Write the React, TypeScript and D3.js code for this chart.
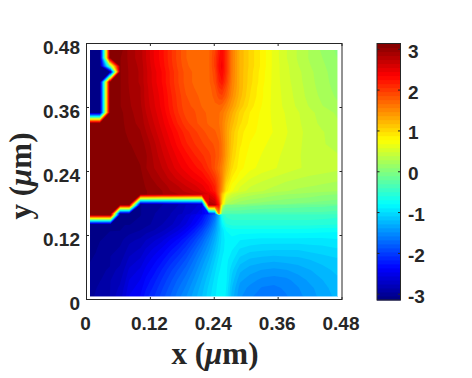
import React from "react";
import * as d3 from "d3";

// sample positions of the phase map (micrometres)
const xSamples = [.0066,.0178,.0254,.0441,.0451,.0629,.0723,.0803,.1013,.1118,.1268,.1418,.1569,.1719,.1869,.2020,.2170,.2301,.2414,.2489,.2546,.2621,.2733,.2884,.3072,.3297,.3522,.3748,.3973,.4199,.4424,.4706];
const ySamples = [.4678,.4528,.4378,.4266,.4078,.3966,.3816,.3628,.3502,.3305,.3141,.2916,.2691,.2466,.2278,.2128,.2034,.1973,.1786,.1777,.1608,.1589,.1411,.1303,.1116,.0928,.0741,.0553,.0366,.0216,.0066];

// phase (rad), one row per y sample, top to bottom
const phaseRows = [
[-3.05,-3.05,-3.05,3.05,3.05,3.1,3.0,2.9,2.8,2.65,2.45,2.3,2.1,1.92,1.77,1.72,1.7,1.75,1.95,2.2,2.35,2.1,1.6,1.25,1.05,.85,.65,.5,.38,.28,.18,.08],
[-3.05,-3.05,-3.05,3.05,3.05,3.05,3.0,2.9,2.8,2.65,2.45,2.3,2.1,1.92,1.77,1.72,1.7,1.75,2.0,2.25,2.35,2.1,1.6,1.25,1.05,.85,.65,.5,.38,.28,.2,.1],
[-3.05,-3.05,-3.05,0,.1,3.05,3.0,2.92,2.82,2.67,2.47,2.32,2.12,1.94,1.79,1.72,1.7,1.75,2.0,2.3,2.4,2.1,1.6,1.25,1.05,.85,.65,.52,.4,.3,.22,.12],
[-3.05,-3.05,-3.05,-3.05,-3.05,3.05,3.0,2.93,2.83,2.68,2.5,2.35,2.15,1.97,1.82,1.75,1.7,1.75,1.95,2.25,2.35,2.1,1.6,1.25,1.03,.83,.65,.52,.42,.32,.23,.14],
[-3.05,-3.05,-3.05,3.1,3.1,3.05,3.0,2.93,2.83,2.68,2.5,2.35,2.15,1.97,1.82,1.75,1.7,1.75,1.9,2.15,2.25,2.0,1.58,1.25,1.02,.82,.65,.53,.43,.33,.24,.15],
[-3.05,-3.05,-3.05,3.1,3.1,3.05,3.0,2.94,2.85,2.7,2.52,2.38,2.17,1.99,1.84,1.77,1.7,1.72,1.85,2.05,2.1,1.9,1.55,1.25,1.0,.8,.65,.54,.44,.34,.25,.16],
[-3.05,-3.05,-3.05,3.1,3.1,3.05,3.0,2.95,2.85,2.7,2.55,2.4,2.2,2.02,1.87,1.82,1.72,1.72,1.8,1.92,1.95,1.8,1.5,1.22,.98,.8,.65,.55,.45,.35,.27,.18],
[-3.05,-3.05,-3.05,3.1,3.1,3.05,3.0,2.96,2.87,2.72,2.57,2.42,2.22,2.04,1.89,1.85,1.76,1.72,1.75,1.75,1.72,1.6,1.4,1.15,.93,.78,.65,.56,.47,.38,.3,.22],
[-3.05,-3.05,-3.05,3.1,3.1,3.08,3.02,2.97,2.9,2.75,2.6,2.45,2.25,2.07,1.92,1.88,1.8,1.74,1.72,1.68,1.62,1.5,1.3,1.05,.88,.76,.66,.58,.5,.42,.35,.28],
[3.1,3.1,3.1,3.1,3.1,3.1,3.03,2.98,2.92,2.8,2.65,2.5,2.33,2.15,2.0,1.9,1.82,1.75,1.72,1.67,1.58,1.42,1.22,1.0,.85,.75,.67,.59,.51,.43,.37,.31],
[3.1,3.1,3.1,3.1,3.1,3.1,3.05,3.0,2.95,2.85,2.7,2.55,2.4,2.25,2.1,2.0,1.9,1.82,1.78,1.72,1.6,1.4,1.15,.92,.82,.75,.68,.6,.52,.45,.4,.35],
[3.1,3.1,3.1,3.1,3.1,3.1,3.1,3.05,3.0,2.92,2.78,2.62,2.47,2.32,2.18,2.07,1.98,1.9,1.85,1.78,1.65,1.42,1.12,.9,.78,.71,.65,.58,.51,.45,.4,.37],
[3.1,3.1,3.1,3.1,3.1,3.1,3.1,3.08,3.02,2.96,2.82,2.68,2.55,2.42,2.3,2.18,2.08,2.0,1.88,1.78,1.65,1.4,1.08,.85,.75,.68,.62,.56,.5,.46,.42,.4],
[3.1,3.1,3.1,3.1,3.1,3.1,3.1,3.1,3.05,2.95,2.85,2.75,2.62,2.5,2.4,2.3,2.2,2.05,1.85,1.7,1.55,1.3,1.0,.82,.72,.65,.6,.55,.5,.47,.45,.42],
[3.1,3.1,3.1,3.1,3.1,3.1,3.1,3.1,3.08,3.0,2.92,2.83,2.72,2.62,2.53,2.43,2.35,2.2,2.02,1.8,1.55,1.18,.88,.72,.6,.53,.48,.43,.4,.37,.35,.33],
[3.1,3.1,3.1,3.1,3.1,3.1,3.1,3.1,3.1,3.03,2.98,2.9,2.82,2.75,2.65,2.58,2.48,2.35,2.15,1.82,1.5,1.02,.75,.6,.5,.44,.4,.35,.32,.3,.28,.25],
[3.1,3.1,3.1,3.1,3.1,3.1,3.1,3.1,3.1,3.05,3.0,2.95,2.85,2.8,2.72,2.65,2.55,2.4,2.2,1.8,1.45,.95,.7,.55,.45,.4,.33,.3,.27,.25,.23,.2],
[3.1,3.1,3.1,3.1,3.1,3.1,3.1,3.1,3.1,3.05,3.0,2.95,2.9,2.85,2.8,2.75,2.7,2.55,2.35,1.8,1.2,.7,.5,.4,.33,.28,.23,.2,.18,.15,.12,.1],
[3.1,3.1,3.1,3.1,3.1,3.1,3.1,3.1,-3.05,-3.0,-3.0,-2.95,-2.9,-2.85,-2.8,-2.75,-2.7,2.85,2.75,2.2,1.0,.3,.2,.12,.08,.05,.03,0,-.02,-.03,-.05,-.08],
[3.1,3.1,3.1,3.1,3.1,3.1,3.1,3.1,-3.05,-3.0,-3.0,-2.95,-2.9,-2.85,-2.75,-2.7,-2.6,2.85,2.85,2.3,.6,0,0,-.02,-.05,-.08,-.1,-.12,-.13,-.15,-.15,-.18],
[3.1,3.1,3.1,3.1,3.1,-3.05,-3.05,-3.05,-3.05,-3.0,-2.95,-2.9,-2.85,-2.8,-2.7,-2.6,-2.45,-2.25,-2.0,1.5,-.2,-.3,-.3,-.3,-.32,-.33,-.33,-.33,-.33,-.33,-.33,-.35],
[3.1,3.1,3.1,3.1,3.1,-3.05,-3.05,-3.05,-3.05,-3.0,-2.95,-2.9,-2.85,-2.75,-2.65,-2.5,-2.35,-2.05,-1.7,-1.2,-.6,-.45,-.42,-.42,-.42,-.42,-.42,-.42,-.42,-.42,-.42,-.45],
[-3.05,-3.05,-3.05,-3.05,-3.05,-3.05,-3.05,-3.05,-3.0,-2.98,-2.92,-2.85,-2.78,-2.68,-2.55,-2.38,-2.15,-1.85,-1.5,-1.15,-.85,-.6,-.55,-.55,-.55,-.55,-.55,-.55,-.55,-.55,-.57,-.58],
[-3.05,-3.05,-3.05,-3.05,-3.05,-3.05,-3.0,-3.0,-2.95,-2.9,-2.85,-2.78,-2.68,-2.57,-2.42,-2.22,-1.98,-1.7,-1.4,-1.15,-.95,-.78,-.72,-.72,-.72,-.72,-.72,-.72,-.72,-.73,-.74,-.75],
[-3.05,-3.05,-3.05,-3.0,-3.0,-2.97,-2.93,-2.88,-2.82,-2.75,-2.67,-2.58,-2.45,-2.33,-2.17,-1.98,-1.75,-1.5,-1.27,-1.08,-.95,-.85,-.82,-.88,-.9,-.92,-.92,-.92,-.92,-.92,-.92,-.9],
[-3.05,-3.05,-3.0,-3.0,-2.97,-2.93,-2.87,-2.8,-2.73,-2.63,-2.52,-2.42,-2.28,-2.15,-2.0,-1.8,-1.58,-1.38,-1.17,-1.02,-.92,-.85,-.88,-1.0,-1.05,-1.07,-1.08,-1.08,-1.08,-1.05,-1.03,-1.0],
[-3.05,-3.02,-3.0,-2.97,-2.93,-2.88,-2.8,-2.72,-2.63,-2.52,-2.4,-2.28,-2.13,-2.0,-1.85,-1.66,-1.45,-1.27,-1.08,-.95,-.88,-.85,-.95,-1.12,-1.2,-1.23,-1.25,-1.23,-1.22,-1.18,-1.14,-1.1],
[-3.02,-3.0,-2.97,-2.93,-2.88,-2.82,-2.73,-2.63,-2.53,-2.42,-2.3,-2.15,-2.0,-1.86,-1.72,-1.55,-1.35,-1.18,-1.0,-.9,-.85,-.85,-1.05,-1.25,-1.33,-1.38,-1.4,-1.38,-1.33,-1.28,-1.22,-1.15],
[-3.0,-2.98,-2.95,-2.9,-2.85,-2.77,-2.67,-2.55,-2.45,-2.33,-2.2,-2.05,-1.9,-1.75,-1.62,-1.45,-1.27,-1.1,-.95,-.85,-.82,-.85,-1.12,-1.35,-1.43,-1.5,-1.52,-1.5,-1.43,-1.35,-1.28,-1.2],
[-3.0,-2.95,-2.92,-2.87,-2.82,-2.73,-2.62,-2.5,-2.4,-2.27,-2.13,-1.98,-1.83,-1.68,-1.55,-1.38,-1.22,-1.05,-.92,-.83,-.8,-.88,-1.18,-1.42,-1.5,-1.58,-1.6,-1.55,-1.48,-1.4,-1.32,-1.22],
[-2.98,-2.93,-2.9,-2.85,-2.8,-2.7,-2.58,-2.45,-2.35,-2.2,-2.07,-1.92,-1.77,-1.62,-1.48,-1.33,-1.18,-1.02,-.9,-.82,-.78,-.9,-1.22,-1.45,-1.55,-1.62,-1.62,-1.58,-1.5,-1.43,-1.33,-1.25],
];

const axisTicks = [0, 0.12, 0.24, 0.36, 0.48];
const axisTickLabels = ["0", "0.12", "0.24", "0.36", "0.48"];
const barTicks = [-3, -2, -1, 0, 1, 2, 3];
const levelCount = 64;

const INK = "#262626";
const SANS = "'Liberation Sans', Arial, sans-serif";
const SERIF = "'Liberation Serif', 'Times New Roman', serif";

const jet = (t: number) => {
  const ch = (c: number) => Math.round(255 * Math.max(0, Math.min(1, 1.5 - Math.abs(4 * t - c))));
  return `rgb(${ch(3)},${ch(2)},${ch(1)})`;
};

export default function App() {
  const x = d3.scaleLinear().domain([0, 0.48]).range([86.5, 342]);
  const y = d3.scaleLinear().domain([0, 0.48]).range([299.5, 43.5]);
  const c = d3.scaleLinear().domain([-Math.PI, Math.PI]).range([300, 43.5]);

  const nx = xSamples.length;
  const ny = ySamples.length;
  const gx = d3.scaleLinear().domain(xSamples.map((_, i) => i + 0.5)).range(xSamples.map((v) => x(v)));
  const gy = d3.scaleLinear().domain(ySamples.map((_, i) => i + 0.5)).range(ySamples.map((v) => y(v)));
  const path = d3.geoPath(
    d3.geoTransform({
      point(px: number, py: number) {
        (this as any).stream.point(gx(px), gy(py));
      },
    })
  );

  const levels = d3.range(levelCount).map((k) => -Math.PI + (k * 2 * Math.PI) / levelCount);
  const bands = d3.contours().size([nx, ny]).thresholds(levels.slice(1))(phaseRows.flat());
  const colorOf = (k: number) => jet((k + 0.5) / levelCount);

  const left = x(xSamples[0]);
  const right = x(xSamples[nx - 1]);
  const top = y(ySamples[0]);
  const bottom = y(ySamples[ny - 1]);

  const barX0 = 377;
  const barX1 = 400.5;

  const mapLayer = (
    <>
      <rect x={left} y={top} width={right - left + 2} height={bottom - top + 2} fill={colorOf(0)} />
      {bands.map((b, i) => (
        <path key={i} d={path(b as any) || ""} fill={colorOf(i + 1)} />
      ))}
    </>
  );

  return (
    <svg
      width={472}
      height={378}
      style={{ position: "absolute", left: 0, top: 0, display: "block", background: "#fff" }}
    >
      <defs>
        <clipPath id="map">
          <rect x={left} y={top} width={right - left} height={bottom - top} />
        </clipPath>
        <clipPath id="mapEdge">
          <rect x={left} y={top} width={right - left + 1} height={bottom - top + 1} />
        </clipPath>
      </defs>
      <g clipPath="url(#mapEdge)" opacity={0.45}>{mapLayer}</g>
      <g clipPath="url(#map)">{mapLayer}</g>

      <rect x={x(0)} y={y(0.48)} width={x(0.48) - x(0)} height={y(0) - y(0.48)} fill="none" stroke={INK} strokeWidth={1} />
      {axisTicks.map((t, i) => (
        <g key={t}>
          <line x1={x(t)} x2={x(t)} y1={y(0)} y2={y(0) - 2.5} stroke={INK} />
          <line x1={x(t)} x2={x(t)} y1={y(0.48)} y2={y(0.48) + 2.5} stroke={INK} />
          <line y1={y(t)} y2={y(t)} x1={x(0)} x2={x(0) + 2.5} stroke={INK} />
          <line y1={y(t)} y2={y(t)} x1={x(0.48)} x2={x(0.48) - 2.5} stroke={INK} />
          <text x={x(t) - 1} y={329.5} textAnchor="middle" fontFamily={SANS} fontWeight="bold" fontSize={19} fill={INK}>
            {axisTickLabels[i]}
          </text>
          <text x={80} y={y(t) + 10} textAnchor="end" fontFamily={SANS} fontWeight="bold" fontSize={19} fill={INK}>
            {axisTickLabels[i]}
          </text>
        </g>
      ))}

      <text x={215} y={363.5} textAnchor="middle" fontFamily={SERIF} fontWeight="bold" fontSize={31} fill={INK}>
        x (<tspan fontStyle="italic">μ</tspan>m)
      </text>
      <text
        transform="translate(31,176) rotate(-90)"
        textAnchor="middle"
        fontFamily={SERIF}
        fontWeight="bold"
        fontSize={31}
        fill={INK}
      >
        y (<tspan fontStyle="italic">μ</tspan>m)
      </text>

      {levels.map((v, k) => (
        <rect
          key={k}
          x={barX0}
          width={barX1 - barX0}
          y={c(v + (2 * Math.PI) / levelCount)}
          height={c(v) - c(v + (2 * Math.PI) / levelCount) + 0.5}
          fill={colorOf(k)}
        />
      ))}
      <rect x={barX0} y={c(Math.PI)} width={barX1 - barX0} height={c(-Math.PI) - c(Math.PI)} fill="none" stroke={INK} />
      {barTicks.map((t) => (
        <g key={t}>
          <line x1={barX1} x2={barX1 - 2.5} y1={c(t)} y2={c(t)} stroke={INK} />
          <line x1={barX0} x2={barX0 + 2.5} y1={c(t)} y2={c(t)} stroke={INK} />
          <text x={408} y={c(t) + 8.5} fontFamily={SANS} fontWeight="bold" fontSize={19} fill={INK}>
            {t}
          </text>
        </g>
      ))}
    </svg>
  );
}
